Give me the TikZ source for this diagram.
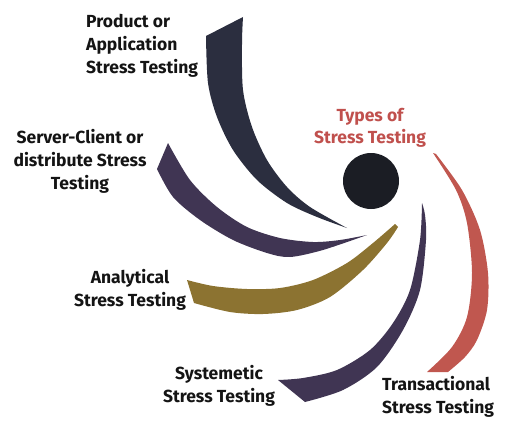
\documentclass[tikz,border=0pt]{standalone}
\usepackage{fontspec}
\setmainfont{Fira Sans}
\usepackage{tikz}
\definecolor{navyband}{HTML}{2B2E3F}
\definecolor{plumband}{HTML}{403553}
\definecolor{goldband}{HTML}{8C7331}
\definecolor{redband}{HTML}{C0574F}
\definecolor{hubdark}{HTML}{1B1D24}
\definecolor{headred}{HTML}{C0504D}

\begin{document}
\begin{tikzpicture}[
    x=1pt, y=-1pt,
    type text/.style={font=\bfseries\fontsize{17.5}{23}\selectfont, text=black!92, inner sep=0pt},
    head text/.style={font=\bfseries\fontsize{17.5}{22}\selectfont, text=headred, inner sep=0pt, align=center},
    hub/.style={circle, fill=hubdark, minimum size=56pt, inner sep=0pt}
]
    \useasboundingbox (0,0) rectangle (505,420);

    % Product band
    \fill[navyband] plot[smooth] coordinates {(206,36) (208,83) (217,117) (233,150) (257,180) (287,203) (317,217) (347,228)}
        -- plot[smooth] coordinates {(347,228) (310,207) (287,187) (267,160) (252,127) (243,90) (242,43) (243,17)} -- cycle;

    % Server-Client band
    \fill[plumband] plot[smooth] coordinates {(157,169) (173,197) (200,220) (233,240) (267,253) (290,257) (323,250) (367,235)}
        -- plot[smooth] coordinates {(367,235) (340,240) (313,242) (280,238) (247,227) (217,207) (190,180) (168,143)} -- cycle;

    % Analytical band
    \fill[goldband] plot[smooth] coordinates {(187,280) (213,286) (247,289) (280,288) (313,280) (347,263) (373,243) (395,224)}
        -- plot[smooth] coordinates {(398,227) (387,243) (363,270) (330,297) (297,310) (263,314) (230,312) (194,303)} -- cycle;

    % Systemetic band
    \fill[plumband] plot[smooth] coordinates {(422,203) (420,240) (410,290) (393,323) (370,350) (337,370) (303,378) (278,380)}
        -- plot[smooth] coordinates {(305,402) (343,390) (377,367) (403,330) (420,290) (426,240) (425,215) (422,203)} -- cycle;

    % Transactional band
    \fill[redband] plot[smooth] coordinates {(433,153) (456,190) (467,223) (472,273) (467,317) (452,347) (427,372)}
        -- plot[smooth] coordinates {(448,372) (465,357) (477,340) (487,310) (488,273) (480,230) (462,190) (436,154)} -- cycle;

    % hub and heading
    \node[hub] (center) at (371,181) {};
    \node[head text] (head) at (370,128) {Types of\\Stress Testing};

    % labels
    \node[type text, align=left, anchor=west] (product) at (86,46) {Product or\\Application\\Stress Testing};
    \node[type text, align=center] (server) at (80,161) {Server-Client or\\distribute Stress\\Testing};
    \node[type text, align=center] (analytic) at (130,290) {Analytical\\Stress Testing};
    \node[type text, align=center] (system) at (219,386) {Systemetic\\Stress Testing};
    \node[type text, align=left, anchor=west] (transact) at (382,397) {Transactional\\Stress Testing};
\end{tikzpicture}
\end{document}
